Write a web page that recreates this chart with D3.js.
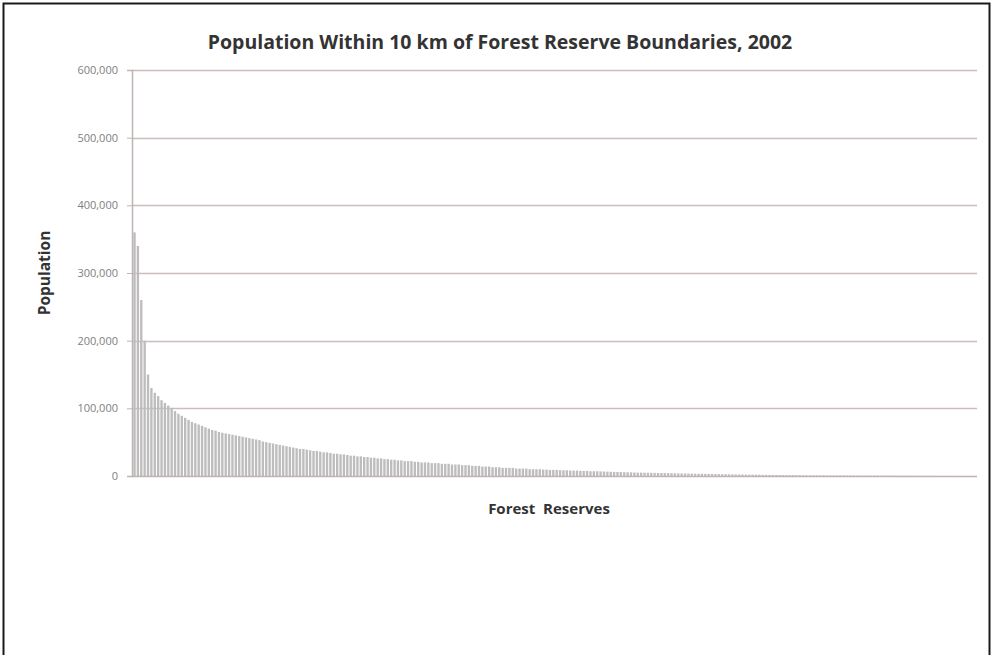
<!DOCTYPE html>
<html>
<head>
<meta charset="utf-8">
<script src="https://cdn.jsdelivr.net/npm/d3@7"></script>
<style>
  html, body { margin: 0; padding: 0; background: #fff; }
  svg { display: block; }
</style>
</head>
<body>
<svg id="chart" width="994" height="655"></svg>
<script>
const chartTitle = "Population Within 10 km of Forest Reserve Boundaries, 2002";
const yAxisTitle = "Population";
const xAxisTitle = "Forest  Reserves";
const yTicks = [0, 100000, 200000, 300000, 400000, 500000, 600000];

// Population near each reserve, sorted descending
const population = [
  360000, 340000, 260000, 200000, 150000, 130000, 123000, 118000, 112000, 108000,
  104000, 100000, 96000, 92000, 89000, 86000, 83000, 80000, 78000, 76000,
  74000, 72000, 70000, 68000, 67000, 65000, 64000, 63000, 62000, 61000,
  60000, 59000, 58000, 57000, 56000, 55000, 54000, 53000, 51000, 50000,
  49000, 48000, 47000, 46000, 45000, 44000, 43000, 42000, 41000, 40000,
  40000, 39000, 38000, 37000, 37000, 36000, 35000, 35000, 34000, 33000,
  33000, 32000, 32000, 31000, 30000, 30000, 29000, 29000, 28000, 28000,
  27000, 27000, 26000, 26000, 25000, 25000, 24000, 24000, 23000, 23000,
  22000, 22000, 22000, 21000, 21000, 20000, 20000, 20000, 19000, 19000,
  19000, 18000, 18000, 18000, 17000, 17000, 17000, 16000, 16000, 16000,
  15000, 15000, 15000, 14000, 14000, 14000, 13000, 13000, 13000, 12000,
  12000, 12000, 12000, 11000, 11000, 11000, 11000, 10000, 10000, 10000,
  10000, 9500, 9500, 9000, 9000, 9000, 8500, 8500, 8500, 8000,
  8000, 8000, 7500, 7500, 7500, 7000, 7000, 7000, 6800, 6600,
  6400, 6200, 6000, 6000, 5800, 5600, 5500, 5400, 5200, 5000,
  5000, 4900, 4800, 4700, 4600, 4500, 4400, 4300, 4200, 4100,
  4000, 3900, 3800, 3700, 3600, 3500, 3400, 3300, 3200, 3100,
  3000, 2900, 2800, 2700, 2600, 2500, 2400, 2400, 2300, 2200,
  2200, 2100, 2000, 2000, 1900, 1800, 1800, 1700, 1600, 1600,
  1500, 1500, 1400, 1400, 1300, 1300, 1200, 1200, 1100, 1100,
  1000, 1000, 980, 960, 940, 920, 900, 880, 860, 840,
  820, 800, 780, 760, 740, 720, 700, 680, 660, 640,
  620, 600, 580, 560, 540, 520, 500, 480, 460, 440,
  420, 400, 380, 360, 340, 320, 300, 280, 260, 240,
  220, 200, 180, 160, 150, 140, 130, 120, 110, 100
];
const reserves = population.map((d, i) => "FR" + (i + 1));

const svg = d3.select("#chart");
const m = { left: 132, right: 977, top: 70, bottom: 476 };
const font = "'Open Sans', Lato, sans-serif";

// outer frame
svg.append("rect")
  .attr("x", 3.5).attr("y", 3.5)
  .attr("width", 986).attr("height", 660)
  .attr("fill", "#fff").attr("stroke", "#1a1a1a").attr("stroke-width", 2);

const x = d3.scaleBand().domain(reserves).range([m.left + 1, m.right]).paddingInner(0.3).paddingOuter(0.1);
const y = d3.scaleLinear().domain([0, 600000]).range([m.bottom, m.top]);

// gridlines
svg.append("g")
  .selectAll("line")
  .data(yTicks.filter(d => d > 0))
  .join("line")
  .attr("x1", m.left).attr("x2", m.right)
  .attr("y1", d => Math.round(y(d)) + 0.5).attr("y2", d => Math.round(y(d)) + 0.5)
  .attr("stroke", "#ccbdbb").attr("stroke-width", 1.6);

// bars
svg.append("g")
  .selectAll("rect")
  .data(population)
  .join("rect")
  .attr("x", (d, i) => x(reserves[i]))
  .attr("width", x.bandwidth())
  .attr("y", d => y(d))
  .attr("height", d => y(0) - y(d))
  .attr("fill", "#bdbdbd");

// y axis
const yAxis = d3.axisLeft(y).tickValues(yTicks).tickSize(5).tickPadding(9)
  .tickFormat(d3.format(","));
const yg = svg.append("g").attr("transform", `translate(${m.left},0)`).call(yAxis);
yg.select(".domain").attr("stroke", "#bfb3b3").attr("stroke-width", 1.5);
yg.selectAll(".tick line").attr("stroke", "#bfb3b3");
yg.selectAll("text").attr("fill", "#808080")
  .style("font-family", font).style("font-size", "11px");

// x axis baseline
svg.append("line")
  .attr("x1", m.left).attr("x2", m.right)
  .attr("y1", Math.round(y(0)) + 0.5).attr("y2", Math.round(y(0)) + 0.5)
  .attr("stroke", "#bfb3b3").attr("stroke-width", 1.6);

// titles
svg.append("text")
  .attr("x", 500).attr("y", 49)
  .attr("text-anchor", "middle")
  .attr("fill", "#333")
  .style("font-family", font)
  .style("font-weight", "bold").style("font-size", "19.5px")
  .text(chartTitle);

svg.append("text")
  .attr("transform", "translate(50,273) rotate(-90)")
  .attr("text-anchor", "middle")
  .attr("fill", "#333")
  .style("font-family", font)
  .style("font-weight", "bold").style("font-size", "15.5px")
  .text(yAxisTitle);

svg.append("text")
  .attr("x", 549).attr("y", 514)
  .attr("text-anchor", "middle")
  .attr("fill", "#333")
  .attr("xml:space", "preserve")
  .style("white-space", "pre")
  .style("font-family", font)
  .style("font-weight", "bold").style("font-size", "15px")
  .text(xAxisTitle);
</script>
</body>
</html>
